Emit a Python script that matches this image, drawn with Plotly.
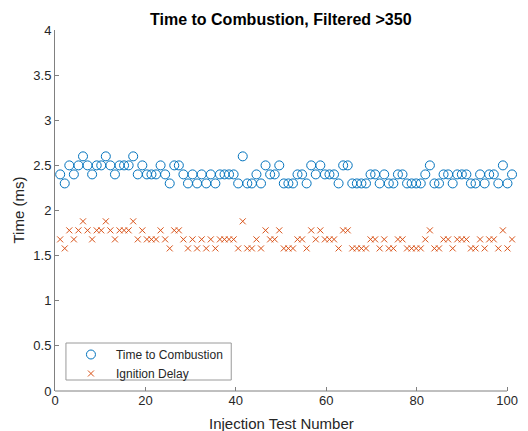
import plotly.graph_objects as go

test_number = list(range(1, 101))

time_to_combustion = [
    2.4, 2.3, 2.5, 2.4, 2.5, 2.6, 2.5, 2.4, 2.5, 2.5,
    2.6, 2.5, 2.4, 2.5, 2.5, 2.5, 2.6, 2.4, 2.5, 2.4,
    2.4, 2.4, 2.5, 2.4, 2.3, 2.5, 2.5, 2.4, 2.3, 2.4,
    2.3, 2.4, 2.3, 2.4, 2.3, 2.4, 2.4, 2.4, 2.4, 2.3,
    2.6, 2.3, 2.3, 2.4, 2.3, 2.5, 2.4, 2.4, 2.5, 2.3,
    2.3, 2.3, 2.4, 2.4, 2.3, 2.5, 2.4, 2.5, 2.4, 2.4,
    2.4, 2.3, 2.5, 2.5, 2.3, 2.3, 2.3, 2.3, 2.4, 2.4,
    2.3, 2.4, 2.3, 2.3, 2.4, 2.4, 2.3, 2.3, 2.3, 2.3,
    2.4, 2.5, 2.3, 2.3, 2.4, 2.4, 2.3, 2.4, 2.4, 2.4,
    2.3, 2.3, 2.4, 2.3, 2.4, 2.4, 2.3, 2.5, 2.3, 2.4,
]

ignition_delay = [
    1.68, 1.58, 1.78, 1.68, 1.78, 1.88, 1.78, 1.68, 1.78, 1.78,
    1.88, 1.78, 1.68, 1.78, 1.78, 1.78, 1.88, 1.68, 1.78, 1.68,
    1.68, 1.68, 1.78, 1.68, 1.58, 1.78, 1.78, 1.68, 1.58, 1.68,
    1.58, 1.68, 1.58, 1.68, 1.58, 1.68, 1.68, 1.68, 1.68, 1.58,
    1.88, 1.58, 1.58, 1.68, 1.58, 1.78, 1.68, 1.68, 1.78, 1.58,
    1.58, 1.58, 1.68, 1.68, 1.58, 1.78, 1.68, 1.78, 1.68, 1.68,
    1.68, 1.58, 1.78, 1.78, 1.58, 1.58, 1.58, 1.58, 1.68, 1.68,
    1.58, 1.68, 1.58, 1.58, 1.68, 1.68, 1.58, 1.58, 1.58, 1.58,
    1.68, 1.78, 1.58, 1.58, 1.68, 1.68, 1.58, 1.68, 1.68, 1.68,
    1.58, 1.58, 1.68, 1.58, 1.68, 1.68, 1.58, 1.78, 1.58, 1.68,
]

x_ticks = [0, 20, 40, 60, 80, 100]
y_ticks = [0, 0.5, 1, 1.5, 2, 2.5, 3, 3.5, 4]
y_tick_labels = ["0", "0.5", "1", "1.5", "2", "2.5", "3", "3.5", "4"]

FONT = "Liberation Sans, Arial, Helvetica, sans-serif"
TXT = "#262626"
AX = "#808080"

# plot area in pixels (the ruler 0..100 spans 55..509; markers run a bit past it)
L, R, T, B = 55, 518, 30, 391
PW, PH = R - L, B - T
RULER_END = 509
ruler_max = 100 * PW / (RULER_END - L)

def px_x(p):
    return (p - L) / PW

def px_y(p):
    return (B - p) / PH

fig = go.Figure()
# empty trace so that the ruler subplot is drawn
fig.add_trace(go.Scatter(x=[], y=[], xaxis="x", yaxis="y", showlegend=False,
                         hoverinfo="skip", mode="markers"))
fig.add_trace(go.Scatter(
    x=test_number, y=time_to_combustion, mode="markers", name="Time to Combustion",
    xaxis="x2", yaxis="y",
    marker=dict(symbol="circle-open", size=9, color="#0072BD", line=dict(width=1, color="#0072BD")),
    cliponaxis=False,
))
fig.add_trace(go.Scatter(
    x=test_number, y=ignition_delay, mode="markers", name="Ignition Delay",
    xaxis="x2", yaxis="y",
    marker=dict(symbol="x-thin-open", size=6, color="#D95319", line=dict(width=1, color="#D95319")),
    cliponaxis=False,
))

fig.update_layout(
    width=528, height=431,
    margin=dict(l=L, r=528 - R, t=T, b=431 - B, pad=0),
    paper_bgcolor="white", plot_bgcolor="white",
    font=dict(family=FONT, size=13, color=TXT),
    showlegend=True,
    legend=dict(
        x=px_x(66), y=px_y(340), xanchor="left", yanchor="top",
        bgcolor="rgba(0,0,0,0)", borderwidth=0,
        font=dict(size=12, color=TXT), tracegroupgap=0, itemwidth=40,
    ),
    shapes=[
        dict(type="rect", xref="paper", yref="paper", layer="below",
             x0=px_x(66), x1=px_x(232), y0=px_y(380), y1=px_y(343),
             line=dict(color="#9a9a9a", width=1), fillcolor="white"),
        dict(type="line", xref="x", yref="paper", layer="above",
             x0=0, x1=100, y0=0, y1=0, line=dict(color=AX, width=1)),
    ],
    annotations=[
        dict(text="<b>Time to Combustion, Filtered >350</b>", xref="paper", yref="paper",
             x=px_x(282), y=1, yshift=11, xanchor="center", yanchor="middle",
             showarrow=False, font=dict(size=16, color="black")),
        dict(text="Injection Test Number", xref="paper", yref="paper",
             x=px_x(282), y=0, yshift=-32, xanchor="center", yanchor="middle",
             showarrow=False, font=dict(size=15, color=TXT)),
        dict(text="Time (ms)", xref="paper", yref="paper", textangle=-90,
             x=0, xshift=-37, y=0.5, xanchor="center", yanchor="middle",
             showarrow=False, font=dict(size=15, color=TXT)),
    ],
    xaxis=dict(
        range=[0, ruler_max], tickvals=x_ticks, ticktext=[str(v) for v in x_ticks],
        showline=False,
        ticks="inside", ticklen=4, tickcolor=AX, tickwidth=1,
        showgrid=False, zeroline=False, tickfont=dict(size=13, color=TXT),
    ),
    # marker positions as drawn in the reference
    xaxis2=dict(
        overlaying="x", anchor="y", range=[-0.134, -0.134 + PW / 4.584], visible=False,
        showgrid=False, zeroline=False,
    ),
    yaxis=dict(
        range=[0, 4], tickvals=y_ticks, ticktext=y_tick_labels,
        showline=True, linecolor=AX, linewidth=1, mirror=False,
        ticks="inside", ticklen=4, tickcolor=AX, tickwidth=1,
        showgrid=False, zeroline=False, tickfont=dict(size=13, color=TXT),
    ),
)

fig.write_html("out.html")
